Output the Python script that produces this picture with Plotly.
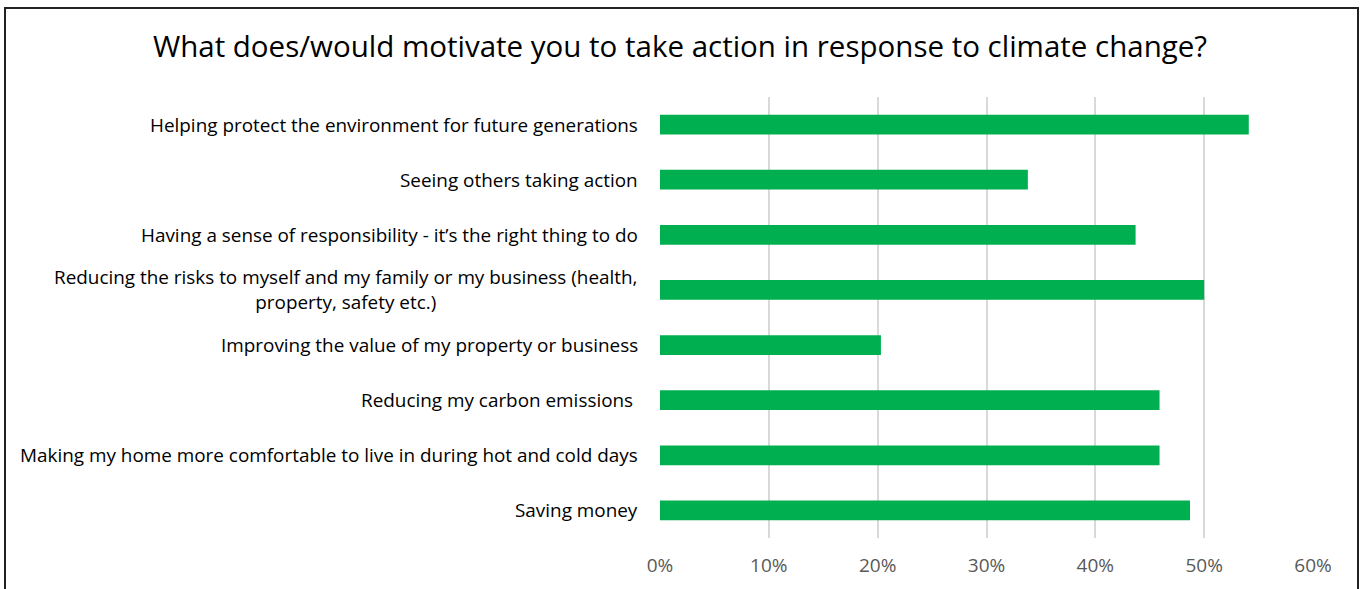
import plotly.graph_objects as go

# Survey responses: share of respondents citing each motivation
motivations = [
    "Helping protect the environment for future generations",
    "Seeing others taking action",
    "Having a sense of responsibility - it\u2019s the right thing to do",
    "Reducing the risks to myself and my family or my business (health,<br>property, safety etc.)",
    "Improving the value of my property or business",
    "Reducing my carbon emissions ",
    "Making my home more comfortable to live in during hot and cold days",
    "Saving money",
]
shares = [0.541, 0.338, 0.437, 0.500, 0.203, 0.459, 0.459, 0.487]
x_ticks = [0, 0.1, 0.2, 0.3, 0.4, 0.5, 0.6]
x_tick_labels = ["0%", "10%", "20%", "30%", "40%", "50%", "60%"]

title_text = "What does/would motivate you to take action in response to climate change?"

FONT = "'Open Sans', Lato, sans-serif"
W, H = 1363, 589
ML, MR, MT, MB = 660, 50, 97, 51

fig = go.Figure(
    go.Bar(
        x=shares,
        y=list(range(len(motivations))),
        orientation="h",
        marker=dict(color="#00B050", line=dict(width=0)),
        hoverinfo="skip",
    )
)

# Category labels as centred annotations so wrapped lines stay centred
for i, label in enumerate(motivations):
    fig.add_annotation(
        x=0, xref="paper", y=i, yref="y",
        text=label, showarrow=False,
        xanchor="right", yanchor="middle", align="center",
        xshift=-20,
        font=dict(family=FONT, size=18.9, color="#000000"),
    )

# Outer chart border
pw, ph = W - ML - MR, H - MT - MB
fig.add_shape(
    type="rect", xref="paper", yref="paper",
    x0=(5 - ML) / pw, x1=(1358 - ML) / pw,
    y0=(H - MB - 600) / ph, y1=(H - MB - 8) / ph,
    line=dict(color="#222222", width=2), fillcolor="rgba(0,0,0,0)",
    layer="above",
)

fig.update_layout(
    width=W, height=H,
    margin=dict(l=ML, r=MR, t=MT, b=MB, pad=0),
    paper_bgcolor="white", plot_bgcolor="white",
    showlegend=False,
    bargap=0.64,
    title=dict(
        text=title_text,
        x=680 / W, xanchor="center", xref="container",
        y=1 - 47 / H, yanchor="middle", yref="container",
        font=dict(family=FONT, size=29.5, color="#000000"),
    ),
    xaxis=dict(
        range=[0, 0.6],
        tickvals=x_ticks, ticktext=x_tick_labels,
        showgrid=True, gridcolor="#D9D9D9", gridwidth=1.5,
        zeroline=False, showline=False,
        ticks="", ticklabelstandoff=14,
        tickfont=dict(family=FONT, size=19, color="#595959"),
        fixedrange=True,
    ),
    yaxis=dict(
        range=[len(motivations) - 0.5, -0.5],
        showticklabels=False, showgrid=False, zeroline=False,
        showline=False, ticks="",
        fixedrange=True,
    ),
)

fig.write_html("out.html")
